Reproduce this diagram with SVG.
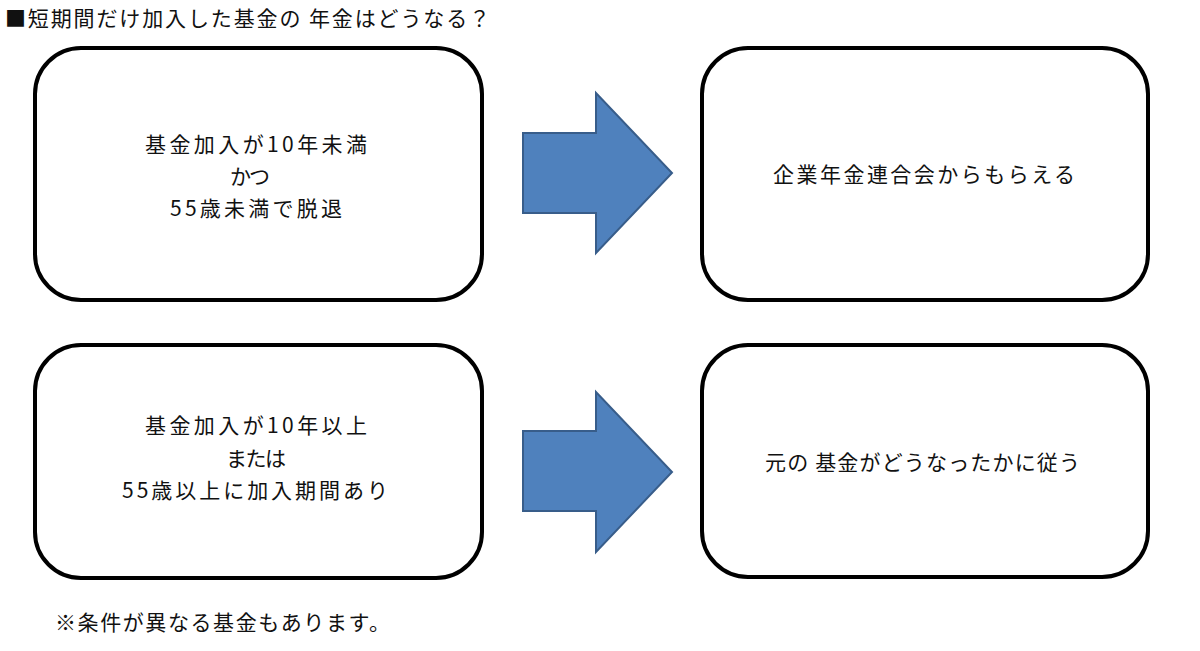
<svg xmlns="http://www.w3.org/2000/svg" width="1200" height="651" viewBox="0 0 1200 651">
<style>
.box{fill:#fff;stroke:#000;stroke-width:4}
.arr{fill:#4F81BD;stroke:#385D8A;stroke-width:2;stroke-linejoin:miter}
text{font-family:"Noto Sans CJK JP","Noto Sans",sans-serif;fill:#111;font-size:21px}
</style>
<rect width="1200" height="651" fill="#fff"/>
<text id="title" x="5" y="26" textLength="485" lengthAdjust="spacing">■短期間だけ加入した基金の 年金はどうなる？</text>
<g id="node1">
<rect class="box" x="35" y="48" width="447" height="252" rx="46" ry="46"/>
<text x="145" y="152" textLength="222" lengthAdjust="spacing">基金加入が10年未満</text>
<text x="230" y="184" textLength="40" lengthAdjust="spacing">かつ</text>
<text x="170" y="216" textLength="172" lengthAdjust="spacing">55歳未満で脱退</text>
</g>
<g id="node2">
<rect class="box" x="702" y="48" width="446" height="252" rx="46" ry="46"/>
<text x="773" y="182" textLength="302" lengthAdjust="spacing">企業年金連合会からもらえる</text>
</g>
<g id="node3">
<rect class="box" x="35" y="345" width="447" height="233" rx="46" ry="46"/>
<text x="145" y="433" textLength="222" lengthAdjust="spacing">基金加入が10年以上</text>
<text x="226" y="466" textLength="60" lengthAdjust="spacing">または</text>
<text x="122" y="498" textLength="266" lengthAdjust="spacing">55歳以上に加入期間あり</text>
</g>
<g id="node4">
<rect class="box" x="702" y="345" width="446" height="232" rx="46" ry="46"/>
<text x="765" y="470" textLength="315" lengthAdjust="spacing">元の 基金がどうなったかに従う</text>
</g>
<g id="connectors">
<polygon class="arr" points="523,133 596,133 596,93 672,173 596,253 596,213 523,213"/>
<polygon class="arr" points="523,431 596,431 596,392 672,472 596,552 596,511 523,511"/>
</g>
<text id="note" x="55" y="630" textLength="335" lengthAdjust="spacing">※条件が異なる基金もあります。</text>
</svg>
